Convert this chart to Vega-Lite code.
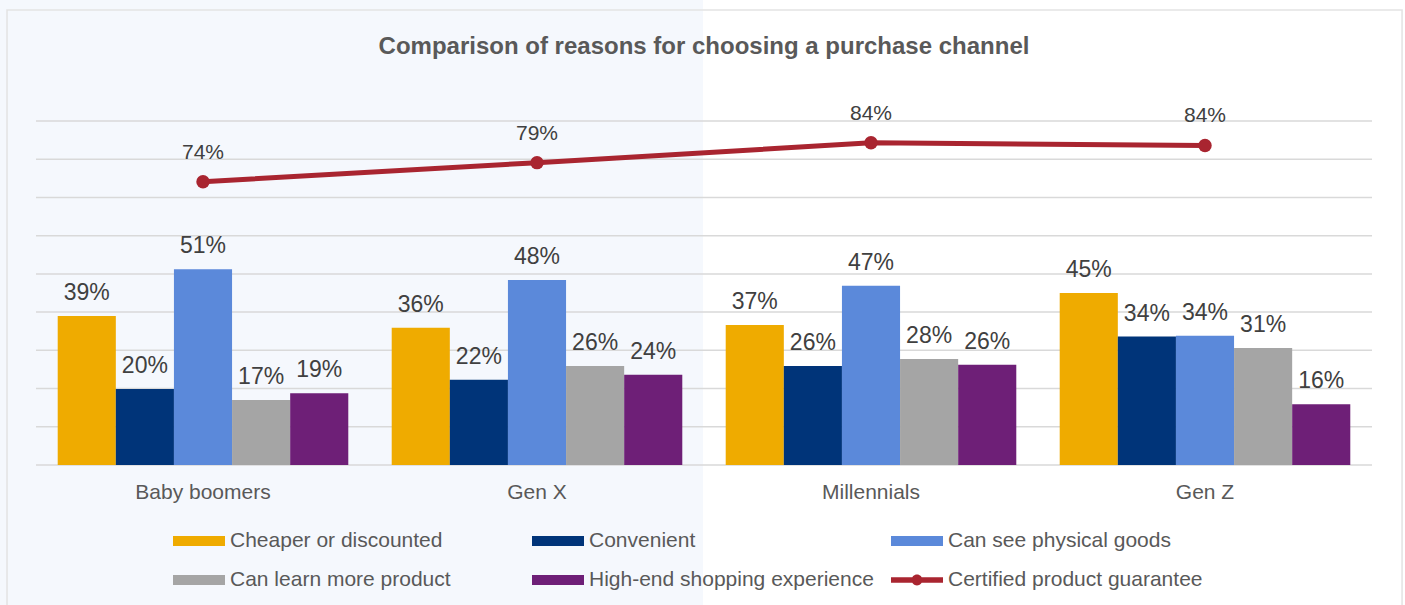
{
  "$schema": "https://vega.github.io/schema/vega-lite/v6.json",
  "width": 1336,
  "height": 344,
  "autosize": {"type": "none"},
  "padding": {"left": 36, "top": 121, "right": 33, "bottom": 140},
  "background": "#ffffff",
  "config": {
    "view": {"stroke": null},
    "font": "Liberation Sans",
    "axisX": {
      "domain": false,
      "ticks": false,
      "tickSize": 0,
      "grid": false,
      "labelAngle": 0,
      "labelFont": "Liberation Sans",
      "labelFontSize": 21,
      "labelColor": "#595959",
      "labelBaseline": "alphabetic",
      "labelPadding": 33
    }
  },
  "title": {
    "text": "Comparison of reasons for choosing a purchase channel",
    "font": "Liberation Sans",
    "fontSize": 24,
    "fontWeight": "bold",
    "color": "#595959",
    "anchor": "middle",
    "frame": "group",
    "baseline": "alphabetic",
    "offset": -129
  },
  "datasets": {
    "bars": [
      {"generation": "Baby boomers", "reason": "Cheaper or discounted", "share": 0.39},
      {"generation": "Baby boomers", "reason": "Convenient", "share": 0.199},
      {"generation": "Baby boomers", "reason": "Can see physical goods", "share": 0.512},
      {"generation": "Baby boomers", "reason": "Can learn more product", "share": 0.17},
      {"generation": "Baby boomers", "reason": "High-end shopping experience", "share": 0.188},
      {"generation": "Gen X", "reason": "Cheaper or discounted", "share": 0.359},
      {"generation": "Gen X", "reason": "Convenient", "share": 0.223},
      {"generation": "Gen X", "reason": "Can see physical goods", "share": 0.484},
      {"generation": "Gen X", "reason": "Can learn more product", "share": 0.259},
      {"generation": "Gen X", "reason": "High-end shopping experience", "share": 0.236},
      {"generation": "Millennials", "reason": "Cheaper or discounted", "share": 0.366},
      {"generation": "Millennials", "reason": "Convenient", "share": 0.259},
      {"generation": "Millennials", "reason": "Can see physical goods", "share": 0.469},
      {"generation": "Millennials", "reason": "Can learn more product", "share": 0.277},
      {"generation": "Millennials", "reason": "High-end shopping experience", "share": 0.262},
      {"generation": "Gen Z", "reason": "Cheaper or discounted", "share": 0.45},
      {"generation": "Gen Z", "reason": "Convenient", "share": 0.336},
      {"generation": "Gen Z", "reason": "Can see physical goods", "share": 0.338},
      {"generation": "Gen Z", "reason": "Can learn more product", "share": 0.306},
      {"generation": "Gen Z", "reason": "High-end shopping experience", "share": 0.159}
    ],
    "line": [
      {"generation": "Baby boomers", "share": 0.741},
      {"generation": "Gen X", "share": 0.791},
      {"generation": "Millennials", "share": 0.843},
      {"generation": "Gen Z", "share": 0.836}
    ],
    "grid": [
      {"level": 0}, {"level": 0.1}, {"level": 0.2}, {"level": 0.3}, {"level": 0.4},
      {"level": 0.5}, {"level": 0.6}, {"level": 0.7}, {"level": 0.8}, {"level": 0.9}
    ],
    "backdrop": [{"part": "panel"}]
  },
  "resolve": {"scale": {"x": "independent", "y": "independent"}},
  "layer": [
    {
      "data": {"name": "backdrop"},
      "layer": [
        {
          "mark": {"type": "rect", "fill": "#f5f8fd"},
          "encoding": {
            "x": {"datum": -0.05, "type": "quantitative", "scale": {"domain": [0, 1], "nice": false, "zero": false}, "axis": null},
            "x2": {"datum": 0.4993},
            "y": {"datum": 1.5, "type": "quantitative", "scale": {"domain": [0, 1], "nice": false, "zero": false}, "axis": null},
            "y2": {"datum": -0.6}
          }
        },
        {
          "mark": {"type": "rect", "fill": null, "stroke": "#e3e3e3", "strokeWidth": 1.5},
          "encoding": {
            "x": {"datum": -0.0217, "type": "quantitative", "scale": {"domain": [0, 1], "nice": false, "zero": false}, "axis": null},
            "x2": {"datum": 1.0225},
            "y": {"datum": 1.3227, "type": "quantitative", "scale": {"domain": [0, 1], "nice": false, "zero": false}, "axis": null},
            "y2": {"datum": -0.6}
          }
        }
      ]
    },
    {
      "layer": [
        {
          "data": {"name": "grid"},
          "mark": {"type": "rule", "color": "#d9d9d9", "strokeWidth": 1.5},
          "encoding": {
            "y": {"field": "level", "type": "quantitative", "scale": {"domain": [0, 0.9], "nice": false}, "axis": null}
          }
        },
        {
          "data": {"name": "bars"},
          "mark": {"type": "bar"},
          "encoding": {
            "x": {"field": "generation", "type": "nominal", "title": null, "axis": {"zindex": 2}, "scale": {"domain": ["Baby boomers", "Gen X", "Millennials", "Gen Z"], "paddingInner": 0.13, "paddingOuter": 0.065}},
            "y": {"field": "share", "type": "quantitative", "scale": {"domain": [0, 0.9], "nice": false}, "axis": null},
            "xOffset": {"field": "reason", "type": "nominal", "scale": {"domain": ["Cheaper or discounted", "Convenient", "Can see physical goods", "Can learn more product", "High-end shopping experience"], "paddingInner": 0, "paddingOuter": 0}},
            "color": {
              "field": "reason",
              "type": "nominal",
              "scale": {
                "domain": ["Cheaper or discounted", "Convenient", "Can see physical goods", "Can learn more product", "High-end shopping experience", "Certified product guarantee"],
                "range": ["#efab00", "#003479", "#5b89da", "#a5a5a5", "#6e1f77", "#a92530"]
              },
              "legend": {
                "orient": "none",
                "legendX": 137,
                "legendY": 394,
                "title": null,
                "direction": "horizontal",
                "columns": 3,
                "gridAlign": "all",
                "padding": 0,
                "columnPadding": 17,
                "rowPadding": 3,
                "labelFont": "Liberation Sans",
                "labelFontSize": 21,
                "labelColor": "#595959",
                "labelOffset": 5,
                "labelLimit": 400,
                "symbolSize": 2704,
                "encode": {
                  "symbols": {
                    "update": {
                      "shape": {"signal": "datum.value === 'Certified product guarantee' ? 'M-1,-0.11L1,-0.11L1,0.11L-1,0.11Z M0.21,0A0.21,0.21 0 1,1 -0.21,0A0.21,0.21 0 1,1 0.21,0Z' : 'M-1,-0.19L1,-0.19L1,0.19L-1,0.19Z'"},
                      "fill": {"scale": "color", "field": "value"},
                      "strokeWidth": {"value": 0},
                      "opacity": {"value": 1}
                    }
                  }
                }
              }
            }
          }
        },
        {
          "data": {"name": "bars"},
          "mark": {"type": "text", "baseline": "alphabetic", "dy": -16, "fontSize": 23, "color": "#404040", "font": "Liberation Sans"},
          "encoding": {
            "x": {"field": "generation", "type": "nominal", "title": null, "axis": {"zindex": 2}, "scale": {"domain": ["Baby boomers", "Gen X", "Millennials", "Gen Z"], "paddingInner": 0.13, "paddingOuter": 0.065}},
            "y": {"field": "share", "type": "quantitative", "scale": {"domain": [0, 0.9], "nice": false}, "axis": null},
            "xOffset": {"field": "reason", "type": "nominal", "scale": {"domain": ["Cheaper or discounted", "Convenient", "Can see physical goods", "Can learn more product", "High-end shopping experience"], "paddingInner": 0, "paddingOuter": 0}},
            "text": {"field": "share", "type": "quantitative", "format": ".0%"}
          }
        },
        {
          "data": {"name": "line"},
          "mark": {"type": "line", "strokeWidth": 5, "point": {"filled": true, "size": 180}},
          "encoding": {
            "x": {"field": "generation", "type": "nominal", "title": null, "axis": {"zindex": 2}, "scale": {"domain": ["Baby boomers", "Gen X", "Millennials", "Gen Z"], "paddingInner": 0.13, "paddingOuter": 0.065}},
            "y": {"field": "share", "type": "quantitative", "scale": {"domain": [0, 0.9], "nice": false}, "axis": null},
            "color": {"datum": "Certified product guarantee", "type": "nominal"}
          }
        },
        {
          "data": {"name": "line"},
          "mark": {"type": "text", "baseline": "alphabetic", "dy": -23, "fontSize": 21, "color": "#404040", "font": "Liberation Sans"},
          "encoding": {
            "x": {"field": "generation", "type": "nominal", "title": null, "axis": {"zindex": 2}, "scale": {"domain": ["Baby boomers", "Gen X", "Millennials", "Gen Z"], "paddingInner": 0.13, "paddingOuter": 0.065}},
            "y": {"field": "share", "type": "quantitative", "scale": {"domain": [0, 0.9], "nice": false}, "axis": null},
            "text": {"field": "share", "type": "quantitative", "format": ".0%"}
          }
        }
      ]
    }
  ]
}
